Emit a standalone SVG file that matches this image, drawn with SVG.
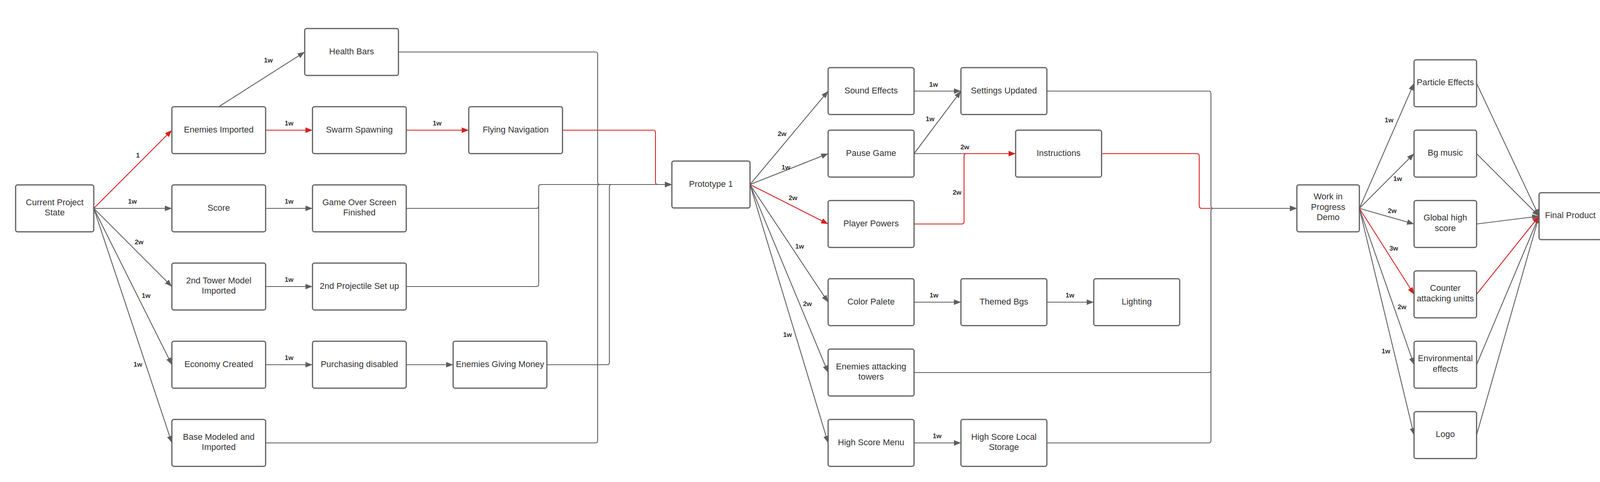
<svg xmlns="http://www.w3.org/2000/svg" width="4140" height="1233" viewBox="0 0 4140 1233">
<style>
.node rect{fill:#ffffff;stroke:#5e5e5e;stroke-width:3}
.node text{font-family:"Liberation Sans",Arial,sans-serif;font-size:22px;fill:#333333;text-anchor:middle}
.e{fill:none;stroke:#5e5e5e;stroke-width:2.2}
.e.r{stroke:#d41f1f}
.a{marker-end:url(#ag)}
.ar{marker-end:url(#ar)}
.lbl{font-family:"Liberation Sans",Arial,sans-serif;font-size:17px;font-weight:bold;fill:#333333;text-anchor:middle}
</style>
<defs>
<marker id="ag" markerUnits="userSpaceOnUse" markerWidth="18" markerHeight="14" refX="18" refY="7" orient="auto"><path d="M0,0 L18,7 L0,14 z" fill="#5e5e5e"/></marker>
<marker id="ar" markerUnits="userSpaceOnUse" markerWidth="18" markerHeight="14" refX="18" refY="7" orient="auto"><path d="M0,0 L18,7 L0,14 z" fill="#d41f1f"/></marker>
</defs>
<rect width="4140" height="1233" fill="#ffffff"/>

<g id="connectors">
<!-- red paths that merge under grey -->
<path class="e r" d="M1440 333 H1672 Q1678 333 1678 339 V466 Q1678 472 1684 472 H1718"/>
<path class="e r" d="M2820 393 H3064 Q3070 393 3070 399 V527 Q3070 533 3076 533 H3100"/>

<!-- left section -->
<path class="e" d="M240 533 L440 533" marker-end="url(#ag)"/>
<path class="e" d="M240 533 L440 733" marker-end="url(#ag)"/>
<path class="e" d="M240 533 L440 933" marker-end="url(#ag)"/>
<path class="e" d="M240 533 L440 1133" marker-end="url(#ag)"/>
<path class="e" d="M560 273 L780 133" marker-end="url(#ag)"/>
<path class="e" d="M680 533 L800 533" marker-end="url(#ag)"/>
<path class="e" d="M680 733 L800 733" marker-end="url(#ag)"/>
<path class="e" d="M680 933 L800 933" marker-end="url(#ag)"/>
<path class="e" d="M1040 933 L1160 933" marker-end="url(#ag)"/>
<path class="e" d="M1020 133 H1524 Q1530 133 1530 139 V466 Q1530 472 1536 472 H1720" marker-end="url(#ag)"/>
<path class="e" d="M680 1133 H1524 Q1530 1133 1530 1127 V478 Q1530 472 1536 472 H1720" marker-end="url(#ag)"/>
<path class="e" d="M1040 533 H1373 Q1379 533 1379 527 V478 Q1379 472 1385 472 H1720" marker-end="url(#ag)"/>
<path class="e" d="M1040 733 H1373 Q1379 733 1379 727 V478 Q1379 472 1385 472 H1720" marker-end="url(#ag)"/>
<path class="e" d="M1400 933 H1554 Q1560 933 1560 927 V478 Q1560 472 1566 472 H1720" marker-end="url(#ag)"/>
<path class="e r" d="M240 533 L440 333" marker-end="url(#ar)"/>
<path class="e r" d="M680 333 L800 333" marker-end="url(#ar)"/>
<path class="e r" d="M1040 333 L1200 333" marker-end="url(#ar)"/>

<!-- middle section -->
<path class="e" d="M1920 472 L2120 233" marker-end="url(#ag)"/>
<path class="e" d="M1920 472 L2120 393" marker-end="url(#ag)"/>
<path class="e" d="M1920 472 L2120 773" marker-end="url(#ag)"/>
<path class="e" d="M1920 472 L2120 953" marker-end="url(#ag)"/>
<path class="e" d="M1920 472 L2120 1133" marker-end="url(#ag)"/>
<path class="e" d="M2340 233 L2460 233" marker-end="url(#ag)"/>
<path class="e" d="M2340 393 L2460 233" marker-end="url(#ag)"/>
<path class="e" d="M2340 393 L2600 393"/>
<path class="e" d="M2340 773 L2460 773" marker-end="url(#ag)"/>
<path class="e" d="M2680 773 L2800 773" marker-end="url(#ag)"/>
<path class="e" d="M2340 1133 L2460 1133" marker-end="url(#ag)"/>
<path class="e" d="M2680 233 H3094 Q3100 233 3100 239 V527 Q3100 533 3106 533 H3320" marker-end="url(#ag)"/>
<path class="e" d="M2340 953 H3094 Q3100 953 3100 947 V539 Q3100 533 3106 533 H3320" marker-end="url(#ag)"/>
<path class="e" d="M2680 1133 H3094 Q3100 1133 3100 1127 V539 Q3100 533 3106 533 H3320" marker-end="url(#ag)"/>
<path class="e r" d="M1920 472 L2120 573" marker-end="url(#ar)"/>
<path class="e r" d="M2340 573 H2462 Q2468 573 2468 567 V399 Q2468 393 2474 393 H2600" marker-end="url(#ar)"/>

<!-- right section -->
<path class="e" d="M3480 533 L3620 213" marker-end="url(#ag)"/>
<path class="e" d="M3480 533 L3620 393" marker-end="url(#ag)"/>
<path class="e" d="M3480 533 L3620 573" marker-end="url(#ag)"/>
<path class="e" d="M3480 533 L3620 933" marker-end="url(#ag)"/>
<path class="e" d="M3480 533 L3620 1113" marker-end="url(#ag)"/>
<path class="e" d="M3780 213 L3940 553" marker-end="url(#ag)"/>
<path class="e" d="M3780 393 L3940 553" marker-end="url(#ag)"/>
<path class="e" d="M3780 573 L3940 553" marker-end="url(#ag)"/>
<path class="e" d="M3780 933 L3940 553" marker-end="url(#ag)"/>
<path class="e" d="M3780 1113 L3940 553" marker-end="url(#ag)"/>
<path class="e r" d="M3480 533 L3620 753" marker-end="url(#ar)"/>
<path class="e r" d="M3780 753 L3940 553" marker-end="url(#ar)"/>

<!-- labels -->
<text class="lbl" x="353" y="403">1</text>
<text class="lbl" x="339" y="521">1w</text>
<text class="lbl" x="356" y="625">2w</text>
<text class="lbl" x="374" y="762">1w</text>
<text class="lbl" x="353" y="938">1w</text>
<text class="lbl" x="687" y="160">1w</text>
<text class="lbl" x="740" y="321">1w</text>
<text class="lbl" x="740" y="521">1w</text>
<text class="lbl" x="740" y="721">1w</text>
<text class="lbl" x="740" y="921">1w</text>
<text class="lbl" x="1119" y="321">1w</text>
<text class="lbl" x="2002" y="348">2w</text>
<text class="lbl" x="2012" y="434">1w</text>
<text class="lbl" x="2030" y="512">2w</text>
<text class="lbl" x="2047" y="636">1w</text>
<text class="lbl" x="2067" y="783">2w</text>
<text class="lbl" x="2016" y="862">1w</text>
<text class="lbl" x="2390" y="222">1w</text>
<text class="lbl" x="2381" y="310">1w</text>
<text class="lbl" x="2470" y="382">2w</text>
<text class="lbl" x="2450" y="498">2w</text>
<text class="lbl" x="2391" y="761">1w</text>
<text class="lbl" x="2739" y="761">1w</text>
<text class="lbl" x="2399" y="1121">1w</text>
<text class="lbl" x="3556" y="313">1w</text>
<text class="lbl" x="3578" y="463">1w</text>
<text class="lbl" x="3564" y="545">2w</text>
<text class="lbl" x="3568" y="641">3w</text>
<text class="lbl" x="3589" y="791">2w</text>
<text class="lbl" x="3548" y="904">1w</text>
</g>

<g id="n-current" class="node"><rect x="40" y="473" width="200" height="120" rx="5"/><text x="140" y="524.5">Current Project</text><text x="140" y="551">State</text></g>
<g id="n-enemies-imported" class="node"><rect x="440" y="273" width="240" height="120" rx="5"/><text x="560" y="339">Enemies Imported</text></g>
<g id="n-health-bars" class="node"><rect x="780" y="73" width="240" height="120" rx="5"/><text x="900" y="139">Health Bars</text></g>
<g id="n-swarm" class="node"><rect x="800" y="273" width="240" height="120" rx="5"/><text x="920" y="339">Swarm Spawning</text></g>
<g id="n-flying" class="node"><rect x="1200" y="273" width="240" height="120" rx="5"/><text x="1320" y="339">Flying Navigation</text></g>
<g id="n-score" class="node"><rect x="440" y="473" width="240" height="120" rx="5"/><text x="560" y="539">Score</text></g>
<g id="n-gameover" class="node"><rect x="800" y="473" width="240" height="120" rx="5"/><text x="920" y="524.5">Game Over Screen</text><text x="920" y="551">Finished</text></g>
<g id="n-tower2" class="node"><rect x="440" y="673" width="240" height="120" rx="5"/><text x="560" y="724.5">2nd Tower Model</text><text x="560" y="751">Imported</text></g>
<g id="n-proj2" class="node"><rect x="800" y="673" width="240" height="120" rx="5"/><text x="920" y="739">2nd Projectile Set up</text></g>
<g id="n-economy" class="node"><rect x="440" y="873" width="240" height="120" rx="5"/><text x="560" y="939">Economy Created</text></g>
<g id="n-purchasing" class="node"><rect x="800" y="873" width="240" height="120" rx="5"/><text x="920" y="939">Purchasing disabled</text></g>
<g id="n-money" class="node"><rect x="1160" y="873" width="240" height="120" rx="5"/><text x="1280" y="939">Enemies Giving Money</text></g>
<g id="n-base" class="node"><rect x="440" y="1073" width="240" height="120" rx="5"/><text x="560" y="1124.5">Base Modeled and</text><text x="560" y="1151">Imported</text></g>
<g id="n-prototype" class="node"><rect x="1720" y="412" width="200" height="120" rx="5"/><text x="1820" y="478">Prototype 1</text></g>

<g id="n-sound" class="node"><rect x="2120" y="173" width="220" height="120" rx="5"/><text x="2230" y="239">Sound Effects</text></g>
<g id="n-settings" class="node"><rect x="2460" y="173" width="220" height="120" rx="5"/><text x="2570" y="239">Settings Updated</text></g>
<g id="n-pause" class="node"><rect x="2120" y="333" width="220" height="120" rx="5"/><text x="2230" y="399">Pause Game</text></g>
<g id="n-instructions" class="node"><rect x="2600" y="333" width="220" height="120" rx="5"/><text x="2710" y="399">Instructions</text></g>
<g id="n-powers" class="node"><rect x="2120" y="513" width="220" height="120" rx="5"/><text x="2230" y="579">Player Powers</text></g>
<g id="n-color" class="node"><rect x="2120" y="713" width="220" height="120" rx="5"/><text x="2230" y="779">Color Palete</text></g>
<g id="n-themed" class="node"><rect x="2460" y="713" width="220" height="120" rx="5"/><text x="2570" y="779">Themed Bgs</text></g>
<g id="n-lighting" class="node"><rect x="2800" y="713" width="220" height="120" rx="5"/><text x="2910" y="779">Lighting</text></g>
<g id="n-attacking" class="node"><rect x="2120" y="893" width="220" height="120" rx="5"/><text x="2230" y="944.5">Enemies attacking</text><text x="2230" y="971">towers</text></g>
<g id="n-hsmenu" class="node"><rect x="2120" y="1073" width="220" height="120" rx="5"/><text x="2230" y="1139">High Score Menu</text></g>
<g id="n-hsstorage" class="node"><rect x="2460" y="1073" width="220" height="120" rx="5"/><text x="2570" y="1124.5">High Score Local</text><text x="2570" y="1151">Storage</text></g>

<g id="n-wip" class="node"><rect x="3320" y="473" width="160" height="120" rx="5"/><text x="3400" y="510">Work in</text><text x="3400" y="536.5">Progress</text><text x="3400" y="563">Demo</text></g>
<g id="n-particle" class="node"><rect x="3620" y="153" width="160" height="120" rx="5"/><text x="3700" y="218">Particle Effects</text></g>
<g id="n-bgmusic" class="node"><rect x="3620" y="333" width="160" height="120" rx="5"/><text x="3700" y="398">Bg music</text></g>
<g id="n-global" class="node"><rect x="3620" y="513" width="160" height="120" rx="5"/><text x="3700" y="564">Global high</text><text x="3700" y="590.5">score</text></g>
<g id="n-counter" class="node"><rect x="3620" y="693" width="160" height="120" rx="5"/><text x="3700" y="744">Counter</text><text x="3700" y="770.5">attacking unitts</text></g>
<g id="n-env" class="node"><rect x="3620" y="873" width="160" height="120" rx="5"/><text x="3700" y="924">Environmental</text><text x="3700" y="950.5">effects</text></g>
<g id="n-logo" class="node"><rect x="3620" y="1053" width="160" height="120" rx="5"/><text x="3700" y="1118">Logo</text></g>
<g id="n-final" class="node"><rect x="3940" y="493" width="160" height="120" rx="5"/><text x="4020" y="558">Final Product</text></g>
</svg>
